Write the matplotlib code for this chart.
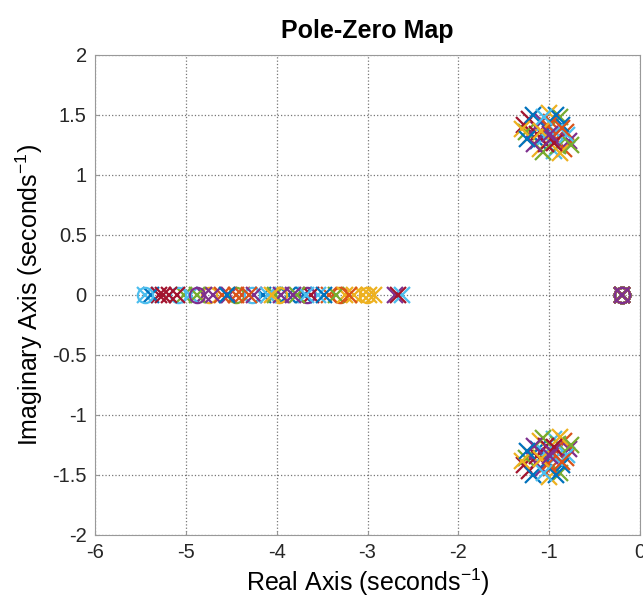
import matplotlib.pyplot as plt
import numpy as np

plt.rcParams['font.family'] = ['Liberation Sans', 'DejaVu Sans']
plt.rcParams['mathtext.fontset'] = 'custom'
plt.rcParams['mathtext.rm'] = 'Liberation Sans'
plt.rcParams['mathtext.it'] = 'Liberation Sans'
plt.rcParams['axes.unicode_minus'] = False

# MATLAB default color order
colors = ['#0072BD', '#D95319', '#EDB120', '#7E2F8E', '#77AC30', '#4DBEEE', '#A2142F']

# one real pole per sampled system
real_poles = [-4.15, -3.42, -3.05, -4.52, -5.02, -5.45, -5.30, -3.70, -4.38, -3.25,
              -4.80, -4.02, -3.55, -5.18, -3.88, -4.60, -2.98, -4.25, -3.35, -4.95,
              -3.62, -5.38, -4.45, -3.15, -4.70, -3.78, -4.10, -5.10, -3.48, -4.30,
              -2.93, -3.95, -4.88, -3.68, -5.25, -4.55, -3.20, -4.05, -3.82]

# complex pole pair per system (real part, imag part)
cplx_re = [-1.02, -0.92, -1.20, -1.08, -0.88, -0.95, -1.28, -1.12, -0.82, -1.00,
           -1.15, -0.90, -1.05, -1.22, -0.86, -0.98, -1.10, -0.78, -1.25, -0.94,
           -1.03, -1.18, -0.84, -1.30, -0.97, -1.07, -0.80, -1.13, -0.92, -1.01,
           -0.88, -1.17, -0.76, -1.06, -0.95, -1.24, -0.86, -1.09, -0.99]
cplx_im = [1.38, 1.30, 1.33, 1.45, 1.48, 1.20, 1.42, 1.28, 1.36, 1.52,
           1.40, 1.24, 1.32, 1.47, 1.42, 1.44, 1.22, 1.28, 1.36, 1.36,
           1.26, 1.50, 1.22, 1.38, 1.31, 1.19, 1.33, 1.34, 1.50, 1.41,
           1.18, 1.26, 1.25, 1.48, 1.27, 1.30, 1.39, 1.37, 1.34]

# extra real poles near -2.65 (system index)
far_poles = [-2.70, -2.66, -2.62]
far_sys = [24, 34, 33]

# real zeros (system index)
zero_re = [-5.45, -5.09, -4.74, -4.45, -4.27, -3.97, -3.67, -3.30, -3.01, -4.88]
zero_sys = [26, 5, 9, 4, 12, 16, 17, 8, 23, 38]

# pole-zero pair shared by every system
cancel_re = -0.2

fig = plt.figure(figsize=(6.43, 6.08), dpi=100)
ax = fig.add_axes([95 / 643, 73 / 608, 545 / 643, 480 / 608])

mk = dict(linestyle='none', markersize=11, markeredgewidth=1.6)
n = len(real_poles)
for i in range(n):
    c = colors[i % 7]
    ax.plot([real_poles[i], cplx_re[i], cplx_re[i], cancel_re],
            [0, cplx_im[i], -cplx_im[i], 0], marker='x', color=c, **mk)
    for p, s in zip(far_poles, far_sys):
        if s == i:
            ax.plot([p], [0], marker='x', color=c, **mk)
    for z, s in zip(zero_re, zero_sys):
        if s == i:
            ax.plot([z], [0], marker='o', color=c, markerfacecolor='none', **mk)
    ax.plot([cancel_re], [0], marker='o', color=c, markerfacecolor='none', **mk)

ax.set_xlim(-6, 0)
ax.set_ylim(-2, 2)
ax.set_xticks(np.arange(-6, 1, 1))
ax.set_yticks(np.arange(-2, 2.5, 0.5))
ax.set_yticklabels(['-2', '-1.5', '-1', '-0.5', '0', '0.5', '1', '1.5', '2'])
ax.grid(True, linestyle=':', color='#555555', linewidth=0.9, alpha=0.8)
ax.set_axisbelow(True)
for sp in ax.spines.values():
    sp.set_color('#999999')
ax.tick_params(direction='in', length=3, color='#999999', labelsize=14.5,
               labelcolor='#262626', pad=6)

ax.set_title('Pole-Zero Map', fontsize=18, fontweight='bold', pad=12)
ax.set_xlabel('Real Axis (seconds$^{-1}$)', fontsize=18, labelpad=3)
ax.set_ylabel('Imaginary Axis (seconds$^{-1}$)', fontsize=18, labelpad=5)

fig.savefig('out.png', dpi=100)
